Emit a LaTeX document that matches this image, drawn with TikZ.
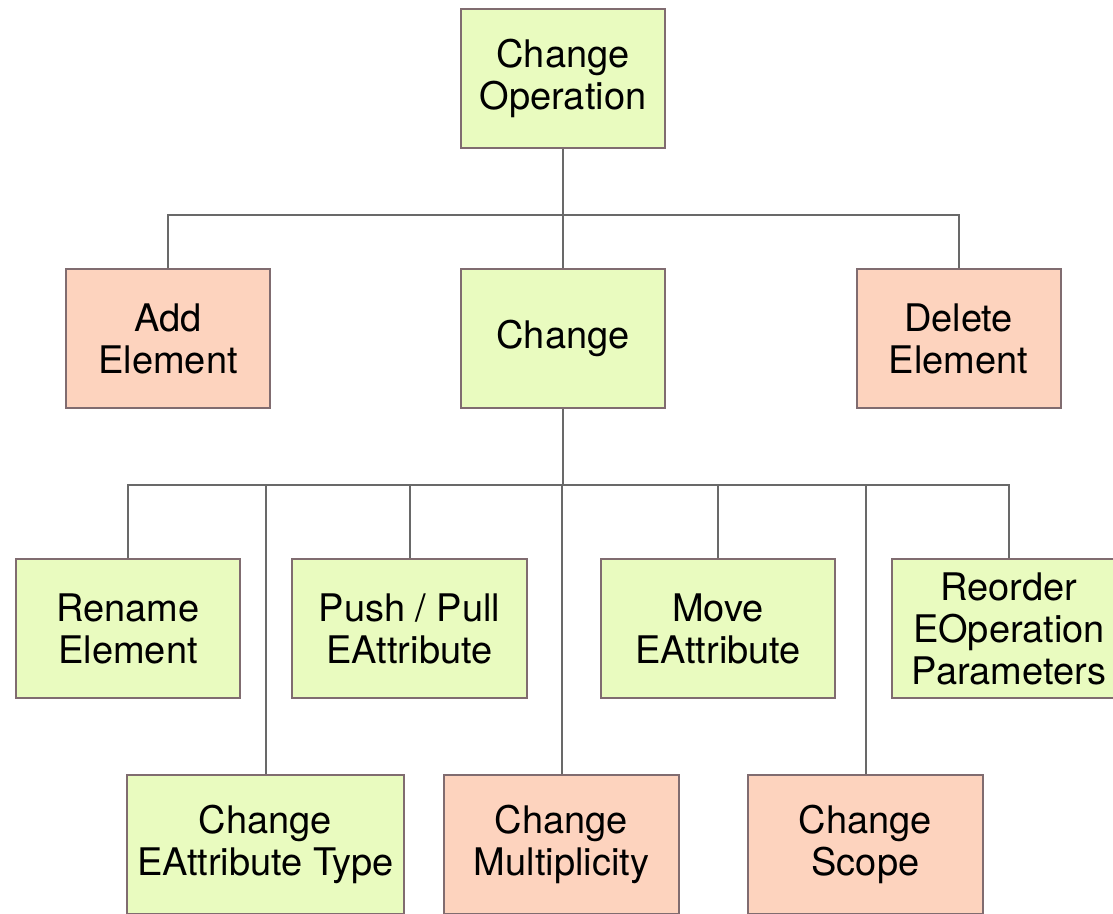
\documentclass[tikz,border=0pt]{standalone}
\usepackage{fontspec}
\setmainfont{TeX Gyre Heros}
\usetikzlibrary{positioning}
\definecolor{lime}{RGB}{233,251,191}
\definecolor{peach}{RGB}{253,211,190}
\definecolor{edge}{RGB}{128,108,112}
\definecolor{wire}{RGB}{105,105,105}
\tikzset{
  op/.style={draw=edge,fill=#1,line width=2pt,inner sep=0pt,align=center,
    minimum width=204pt,minimum height=139pt,
    font=\fontsize{38}{42}\selectfont},
  op/.default=lime,
  link/.style={draw=wire,line width=2pt},
}
\begin{document}
\begin{tikzpicture}[x=1pt,y=-1pt]
  \useasboundingbox (0,0) rectangle (1113,913);
  % top level
  \node[op] (root) at (563,78) {Change\\Operation};
  \node[op=peach] (add) at (168,338.5) {Add\\Element};
  \node[op] (chg) at (563,338.5) {Change};
  \node[op=peach] (del) at (958.5,338.5) {Delete\\Element};
  % kinds of change
  \node[op,minimum width=224pt] (ren) at (128,628.5) {Rename\\Element};
  \node[op,minimum width=235pt] (push) at (409.5,628.5) {Push / Pull\\EAttribute};
  \node[op,minimum width=234pt] (move) at (718,628.5) {Move\\EAttribute};
  \node[op,minimum width=234pt] (reord) at (1009,628.5) {Reorder\\EOperation\\Parameters};
  \node[op,minimum width=277pt] (type) at (265.5,844.5) {Change\\EAttribute Type};
  \node[op=peach,minimum width=235pt] (mult) at (561.5,844.5) {Change\\Multiplicity};
  \node[op=peach,minimum width=235pt] (scope) at (865.5,844.5) {Change\\Scope};
  % wiring
  \coordinate (bus1) at (563,215);
  \coordinate (bus2) at (563,485);
  \draw[link] (root.south) -- (bus1);
  \foreach \n in {add,chg,del} \draw[link] (\n.north) |- (bus1);
  \draw[link] (chg.south) -- (bus2);
  \foreach \n in {ren,push,move,reord,type,mult,scope} \draw[link] (\n.north) |- (bus2);
\end{tikzpicture}
\end{document}
